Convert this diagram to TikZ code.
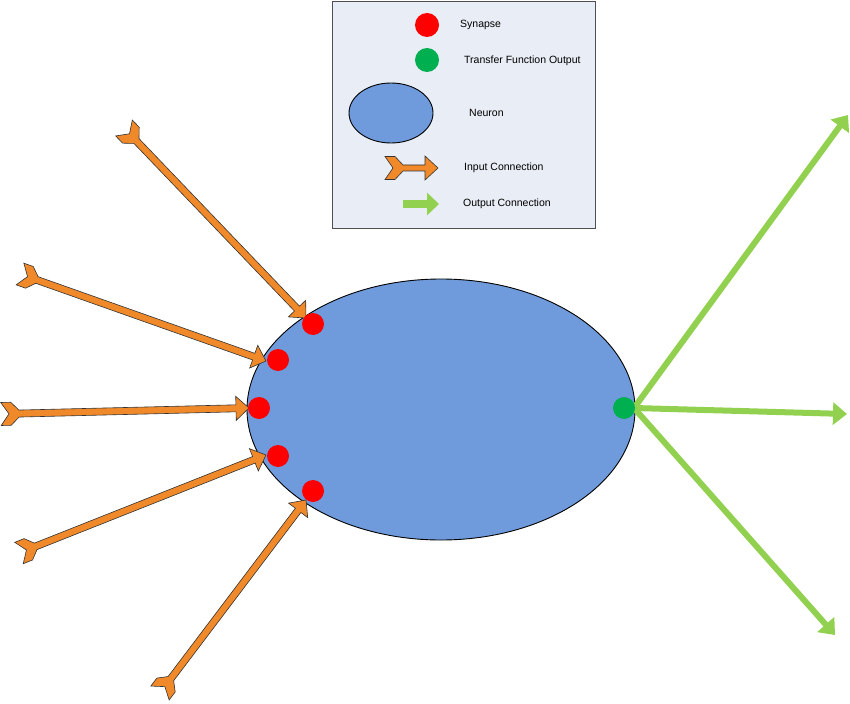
\documentclass[tikz,border=0pt]{standalone}
\usepackage{fontspec}
\setmainfont{Liberation Sans}
\usetikzlibrary{calc,arrows.meta,shapes.geometric}
\definecolor{neuronblue}{HTML}{6F9BDC}
\definecolor{synred}{HTML}{FF0000}
\definecolor{tfgreen}{HTML}{00B050}
\definecolor{outgreen}{HTML}{92D050}
\definecolor{inorange}{HTML}{F0892A}
\definecolor{legfill}{HTML}{E9EDF5}
\definecolor{legborder}{HTML}{505050}
\tikzset{
  neuronstyle/.style={ellipse, draw=black, line width=0.9pt, fill=neuronblue, inner sep=0pt},
  synstyle/.style={circle, fill=synred, minimum size=22pt, inner sep=0pt},
  tfstyle/.style={circle, fill=tfgreen, minimum size=22pt, inner sep=0pt},
  inconnstyle/.style={fill=inorange, draw=black!80, line width=0.6pt, line join=miter},
  outconn/.style={draw=outgreen, line width=6pt, -{Triangle[width=22pt,length=14pt]}},
  legtext/.style={anchor=base west, font=\fontsize{10.5}{12}\selectfont, inner sep=0pt},
  legbox/.style={draw=legborder, fill=legfill, line width=0.9pt}
}
% block arrow with chevron tail: #1 start coordinate, #2 tip coordinate, #3 shaft half width
\newcommand\inconn[3]{%
  \path let \p1=(#1), \p2=(#2) in \pgfextra{%
    \pgfmathsetmacro\myang{atan2(\y2-\y1,\x2-\x1)}%
    \pgfmathsetmacro\mylen{veclen(\x2-\x1,\y2-\y1)}%
    \pgfmathsetmacro\myhb{\mylen-13}%
    \xdef\inang{\myang}\xdef\inlen{\mylen}\xdef\inhb{\myhb}};
  \begin{scope}[shift={(#1)},rotate=\inang]
    \filldraw[inconnstyle] (0pt,11.5pt) -- (10pt,11.5pt) -- (18pt,#3pt) -- (\inhb pt,#3pt)
      -- (\inhb pt,12pt) -- (\inlen pt,0pt) -- (\inhb pt,-12pt) -- (\inhb pt,-#3pt)
      -- (18pt,-#3pt) -- (10pt,-11.5pt) -- (0pt,-11.5pt) -- (8pt,0pt) -- cycle;
  \end{scope}}
\begin{document}
\begin{tikzpicture}[x=1pt,y=-1pt]
\useasboundingbox (0,0) rectangle (850,703);
% legend
\node[legbox, minimum width=263pt, minimum height=227pt, anchor=north west, inner sep=0pt] (legend) at (332,1) {};
\node[synstyle, minimum size=24pt] (lsyn) at (427,25) {};
\node[tfstyle, minimum size=24pt] (ltf) at (427,60) {};
\node[neuronstyle, minimum width=84pt, minimum height=60pt] (lneu) at (391,113) {};
\coordinate (lin1) at (385,168);
\coordinate (lin2) at (438,168);
\inconn{lin1}{lin2}{3}
\coordinate (lout1) at (403,204);
\coordinate (lout2) at (439,204);
\draw[outgreen, line width=8pt, -{Triangle[width=22pt,length=12pt]}] (lout1) -- (lout2);
\node[legtext] (tsyn) at (460,28) {Synapse};
\node[legtext] (ttf) at (464,64) {Transfer Function Output};
\node[legtext] (tneu) at (469,117) {Neuron};
\node[legtext] (tin) at (464,171) {Input Connection};
\node[legtext] (tout) at (463,207) {Output Connection};
% neuron
\node[neuronstyle, minimum width=388pt, minimum height=261pt] (neuron) at (441,409.5) {};
% input connections
\coordinate (t1) at (124,128);  \coordinate (h1) at (306,318);
\coordinate (t2) at (20,274);   \coordinate (h2) at (266,361);
\coordinate (t3) at (1,414);    \coordinate (h3) at (249,408);
\coordinate (t4) at (19,553);   \coordinate (h4) at (266,455);
\coordinate (t5) at (160,693);  \coordinate (h5) at (306,500);
\inconn{t1}{h1}{3.5}
\inconn{t2}{h2}{3.5}
\inconn{t3}{h3}{3.5}
\inconn{t4}{h4}{3.5}
\inconn{t5}{h5}{3.5}
% synapses
\node[synstyle] (s1) at (313,324) {};
\node[synstyle] (s2) at (278,360) {};
\node[synstyle] (s3) at (259,408) {};
\node[synstyle] (s4) at (278,456) {};
\node[synstyle] (s5) at (313,491) {};
% output connections
\coordinate (gs) at (634,408);
\coordinate (g1) at (848,115);
\coordinate (g2) at (847,414);
\coordinate (g3) at (835,635);
\draw[outconn] (gs) -- (g1);
\draw[outconn] (gs) -- (g2);
\draw[outconn] (gs) -- (g3);
\node[tfstyle] (out) at (624,408) {};
\end{tikzpicture}
\end{document}
